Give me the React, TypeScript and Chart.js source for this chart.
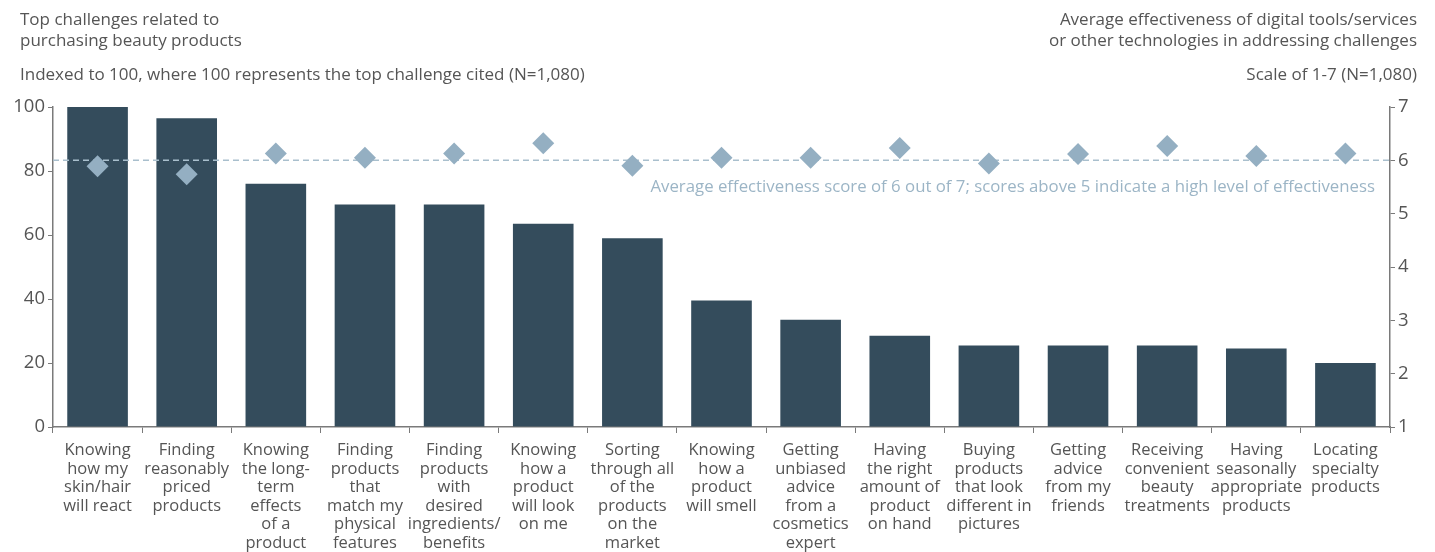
import React, { useEffect, useRef } from "react";
import { Chart, registerables } from "chart.js";

Chart.register(...registerables);

const categories: string[][] = [
  ["Knowing", "how my", "skin/hair", "will react"],
  ["Finding", "reasonably", "priced", "products"],
  ["Knowing", "the long-", "term", "effects", "of a", "product"],
  ["Finding", "products", "that", "match my", "physical", "features"],
  ["Finding", "products", "with", "desired", "ingredients/", "benefits"],
  ["Knowing", "how a", "product", "will look", "on me"],
  ["Sorting", "through all", "of the", "products", "on the", "market"],
  ["Knowing", "how a", "product", "will smell"],
  ["Getting", "unbiased", "advice", "from a", "cosmetics", "expert"],
  ["Having", "the right", "amount of", "product", "on hand"],
  ["Buying", "products", "that look", "different in", "pictures"],
  ["Getting", "advice", "from my", "friends"],
  ["Receiving", "convenient", "beauty", "treatments"],
  ["Having", "seasonally", "appropriate", "products"],
  ["Locating", "specialty", "products"],
];

const challengeIndex = [100, 96.5, 76, 69.5, 69.5, 63.5, 59, 39.5, 33.5, 28.5, 25.5, 25.5, 25.5, 24.5, 20];
const effectiveness = [5.89, 5.74, 6.13, 6.05, 6.13, 6.32, 5.9, 6.05, 6.05, 6.23, 5.94, 6.12, 6.27, 6.08, 6.13];
const leftTicks = [0, 20, 40, 60, 80, 100];
const rightTicks = [1, 2, 3, 4, 5, 6, 7];
const averageScore = 6;
const annotationText =
  "Average effectiveness score of 6 out of 7; scores above 5 indicate a high level of effectiveness";

const FONT = "'Open Sans', 'DejaVu Sans', sans-serif";
const TEXT = "#555555";
const AXIS = "#7a7a7a";
const BAR = "#344c5c";
const DIAMOND = "#94afc2";
const REF = "#a9bfcd";

export default function App() {
  const ref = useRef<HTMLCanvasElement>(null);

  useEffect(() => {
    document.body.style.margin = "0";
    const canvas = ref.current;
    if (!canvas) return;

    const refLine = {
      id: "refLine",
      beforeDatasetDraw(chart: any, args: any) {
        if (args.index !== 1) return;
        const { ctx, chartArea } = chart;
        const y = chart.scales.y1.getPixelForValue(averageScore);
        ctx.save();
        ctx.strokeStyle = REF;
        ctx.lineWidth = 1.5;
        ctx.setLineDash([6, 4]);
        ctx.beginPath();
        ctx.moveTo(chartArea.left, y);
        ctx.lineTo(chartArea.right, y);
        ctx.stroke();
        ctx.restore();
      },
      afterDatasetsDraw(chart: any) {
        const { ctx, chartArea } = chart;
        const y = chart.scales.y1.getPixelForValue(averageScore);
        ctx.save();
        ctx.fillStyle = "#9cb5c6";
        ctx.font = `16.8px ${FONT}`;
        ctx.textAlign = "right";
        ctx.textBaseline = "middle";
        ctx.fillText(annotationText, chartArea.right - 15, y + 27);
        ctx.restore();
      },
    };

    const chart = new Chart(canvas, {
      type: "bar",
      data: {
        labels: categories,
        datasets: [
          {
            type: "bar",
            data: challengeIndex,
            backgroundColor: BAR,
            yAxisID: "y",
            barPercentage: 0.68,
            categoryPercentage: 1,
            order: 2,
          },
          {
            type: "line",
            data: effectiveness,
            yAxisID: "y1",
            showLine: false,
            pointStyle: "rectRot",
            pointRadius: 11,
            pointBackgroundColor: DIAMOND,
            pointBorderColor: DIAMOND,
            pointBorderWidth: 0,
            order: 1,
          } as any,
        ],
      },
      options: {
        animation: false,
        responsive: false,
        maintainAspectRatio: false,
        layout: { padding: { top: 107, left: 0, right: 0, bottom: 0 } },
        plugins: { legend: { display: false }, tooltip: { enabled: false } },
        scales: {
          x: {
            offset: true,
            grid: {
              offset: true,
              drawOnChartArea: false,
              drawTicks: true,
              tickLength: 6,
              color: AXIS,
            },
            border: { color: AXIS, width: 1.5 },
            ticks: {
              color: TEXT,
              font: { family: FONT, size: 16.5, lineHeight: "18.6px" as any },
              padding: 8,
              maxRotation: 0,
              autoSkip: false,
            },
            afterFit(scale: any) {
              scale.height = 125;
            },
          },
          y: {
            position: "left",
            min: 0,
            max: 100,
            afterBuildTicks(scale: any) {
              scale.ticks = leftTicks.map((v) => ({ value: v }));
            },
            grid: { drawOnChartArea: false, tickLength: 5, color: AXIS },
            border: { color: AXIS, width: 1.5 },
            ticks: { color: TEXT, font: { family: FONT, size: 18.5 }, padding: 3 },
            afterFit(scale: any) {
              scale.width = 53;
            },
          },
          y1: {
            position: "right",
            min: 1,
            max: 7,
            afterBuildTicks(scale: any) {
              scale.ticks = rightTicks.map((v) => ({ value: v }));
            },
            grid: { drawOnChartArea: false, tickLength: 5, color: AXIS },
            border: { color: AXIS, width: 1.5 },
            ticks: { color: TEXT, font: { family: FONT, size: 18.5 }, padding: 3 },
            afterFit(scale: any) {
              scale.width = 45;
            },
          },
        },
      },
      plugins: [refLine],
    });

    return () => chart.destroy();
  }, []);

  const head: React.CSSProperties = {
    position: "absolute",
    fontFamily: FONT,
    fontSize: 17,
    lineHeight: "21px",
    color: TEXT,
    whiteSpace: "nowrap",
  };

  return (
    <div style={{ position: "absolute", left: 0, top: 0, width: 1435, height: 552, background: "#fff" }}>
      <canvas ref={ref} width={1435} height={552} style={{ position: "absolute", left: 0, top: 0 }} />
      <div style={{ ...head, left: 20, top: 8 }}>
        Top challenges related to
        <br />
        purchasing beauty products
      </div>
      <div style={{ ...head, left: 20, top: 63 }}>
        Indexed to 100, where 100 represents the top challenge cited (N=1,080)
      </div>
      <div style={{ ...head, right: 18, top: 8, textAlign: "right" }}>
        Average effectiveness of digital tools/services
        <br />
        or other technologies in addressing challenges
      </div>
      <div style={{ ...head, right: 18, top: 63, textAlign: "right" }}>Scale of 1-7 (N=1,080)</div>
    </div>
  );
}
